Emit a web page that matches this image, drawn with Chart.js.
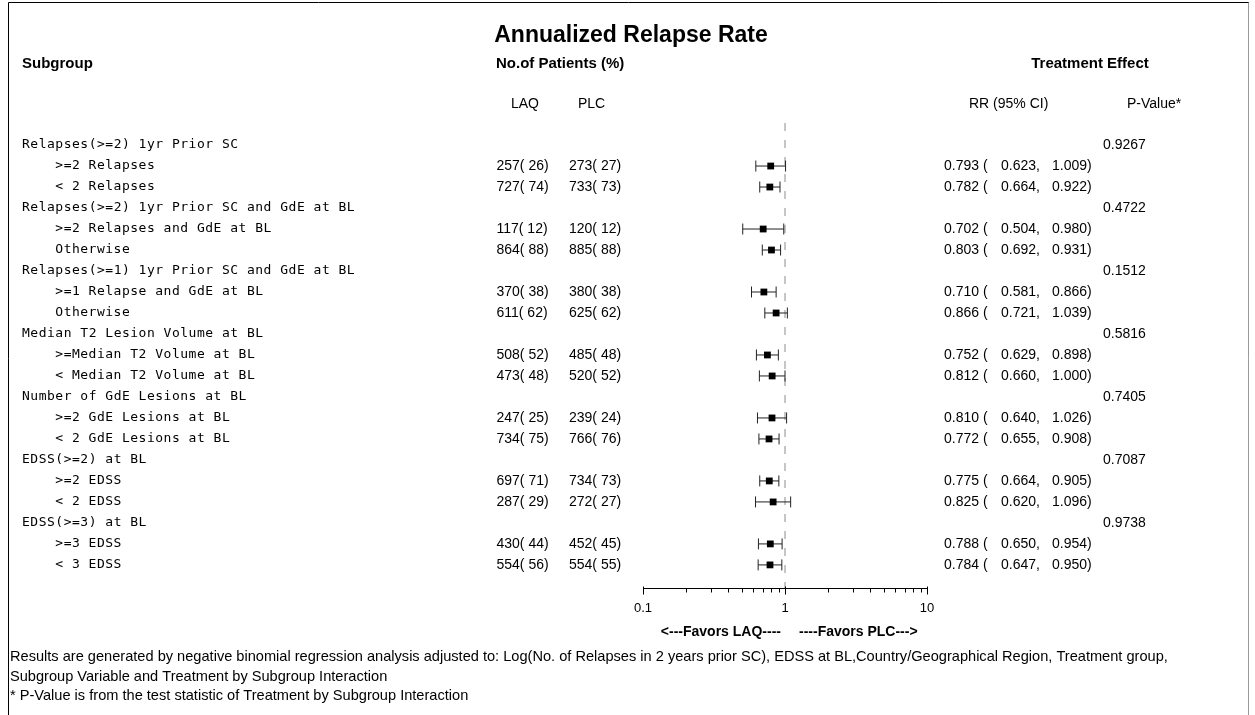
<!DOCTYPE html>
<html>
<head>
<meta charset="utf-8">
<title>Annualized Relapse Rate</title>
<script src="https://cdn.jsdelivr.net/npm/chart.js@4.4.1/dist/chart.umd.min.js"></script>
<style>
    html, body { margin: 0; padding: 0; background: #fff; }
    canvas { display: block; }
</style>
</head>
<body>
<canvas id="forestChart" width="1255" height="715"></canvas>
<script>
// Subgroup variables and their levels
const groupLabels = [
    'Relapses(>=2) 1yr Prior SC',
    'Relapses(>=2) 1yr Prior SC and GdE at BL',
    'Relapses(>=1) 1yr Prior SC and GdE at BL',
    'Median T2 Lesion Volume at BL',
    'Number of GdE Lesions at BL',
    'EDSS(>=2) at BL',
    'EDSS(>=3) at BL'
];
const subgroupLabels = [
    '>=2 Relapses', '< 2 Relapses',
    '>=2 Relapses and GdE at BL', 'Otherwise',
    '>=1 Relapse and GdE at BL', 'Otherwise',
    '>=Median T2 Volume at BL', '< Median T2 Volume at BL',
    '>=2 GdE Lesions at BL', '< 2 GdE Lesions at BL',
    '>=2 EDSS', '< 2 EDSS',
    '>=3 EDSS', '< 3 EDSS'
];

// Patients per arm, n and %
const laqN   = [257, 727, 117, 864, 370, 611, 508, 473, 247, 734, 697, 287, 430, 554];
const laqPct = [26, 74, 12, 88, 38, 62, 52, 48, 25, 75, 71, 29, 44, 56];
const plcN   = [273, 733, 120, 885, 380, 625, 485, 520, 239, 766, 734, 272, 452, 554];
const plcPct = [27, 73, 12, 88, 38, 62, 48, 52, 24, 76, 73, 27, 45, 55];

// Rate ratio with 95% CI
const rrEst  = [0.793, 0.782, 0.702, 0.803, 0.710, 0.866, 0.752, 0.812, 0.810, 0.772, 0.775, 0.825, 0.788, 0.784];
const rrLow  = [0.623, 0.664, 0.504, 0.692, 0.581, 0.721, 0.629, 0.660, 0.640, 0.655, 0.664, 0.620, 0.650, 0.647];
const rrHigh = [1.009, 0.922, 0.980, 0.931, 0.866, 1.039, 0.898, 1.000, 1.026, 0.908, 0.905, 1.096, 0.954, 0.950];

// Interaction p-values, one per subgroup variable
const pValues = [0.9267, 0.4722, 0.1512, 0.5816, 0.7405, 0.7087, 0.9738];

const majorTicks = [0.1, 1, 10];
const minorTicks = [0.2, 0.3, 0.4, 0.5, 0.6, 0.7, 0.8, 0.9, 2, 3, 4, 5, 6, 7, 8, 9];

const footnotes = [
    'Results are generated by negative binomial regression analysis adjusted to: Log(No. of Relapses in 2 years prior SC), EDSS at BL,Country/Geographical Region, Treatment group,',
    'Subgroup Variable and Treatment by Subgroup Interaction',
    '* P-Value is from the test statistic of Treatment by Subgroup Interaction'
];

const SANS = '"Liberation Sans", Arial, sans-serif';
const MONO = '"DejaVu Sans Mono", monospace';

// y value of each table line: group heading then its two levels
function groupRow(g) { return g * 3; }
function subRow(i) { return Math.floor(i / 2) * 3 + 1 + (i % 2); }

function pct(n, p) {
    return n + '(' + String(p).padStart(3) + ')';
}

// fixed pitch text, like the listing output
function drawMono(ctx, text, x, y) {
    const pitch = 8.33;
    for (let k = 0; k < text.length; k++) {
        ctx.fillText(text[k], x + k * pitch, y);
    }
}

function text(ctx, str, x, y, font, align, baseline) {
    ctx.font = font;
    ctx.textAlign = align || 'left';
    ctx.textBaseline = baseline || 'middle';
    ctx.fillText(str, x, y);
}

const tablePlugin = {
    id: 'forestTable',
    beforeDraw(chart) {
        const ctx = chart.ctx;
        ctx.save();
        ctx.lineWidth = 1;
        ctx.strokeStyle = '#000';
        ctx.beginPath();
        ctx.moveTo(8.5, 715);
        ctx.lineTo(8.5, 2.5);
        ctx.lineTo(1249, 2.5);
        ctx.stroke();
        ctx.strokeStyle = '#9a9a9a';
        ctx.beginPath();
        ctx.moveTo(1248.5, 2.5);
        ctx.lineTo(1248.5, 715);
        ctx.stroke();
        ctx.restore();
    },
    afterDatasetsDraw(chart) {
        // log axis along the bottom of the plot area
        const ctx = chart.ctx;
        const xs = chart.scales.x;
        const yb = Math.round(chart.chartArea.bottom) + 0.5;
        ctx.save();
        ctx.strokeStyle = '#000';
        ctx.lineWidth = 1;
        ctx.beginPath();
        ctx.moveTo(xs.getPixelForValue(0.1), yb);
        ctx.lineTo(xs.getPixelForValue(10), yb);
        majorTicks.forEach(t => {
            const px = Math.round(xs.getPixelForValue(t)) + 0.5;
            ctx.moveTo(px, yb - 2);
            ctx.lineTo(px, yb + 6);
        });
        minorTicks.forEach(t => {
            const px = Math.round(xs.getPixelForValue(t)) + 0.5;
            ctx.moveTo(px, yb);
            ctx.lineTo(px, yb + 4);
        });
        ctx.stroke();
        ctx.fillStyle = '#000';
        majorTicks.forEach(t => {
            text(ctx, String(t), xs.getPixelForValue(t), 608, '13px ' + SANS, 'center');
        });
        const one = xs.getPixelForValue(1);
        text(ctx, '<---Favors LAQ----', one - 4, 632, 'bold 14px ' + SANS, 'right');
        text(ctx, '----Favors PLC--->', one + 14, 632, 'bold 14px ' + SANS, 'left');
        ctx.restore();
    },
    afterDraw(chart) {
        const ctx = chart.ctx;
        const ys = chart.scales.y;
        ctx.save();
        ctx.fillStyle = '#000';

        // headings
        text(ctx, 'Annualized Relapse Rate', 631, 42, 'bold 23px ' + SANS, 'center', 'alphabetic');
        text(ctx, 'Subgroup', 22, 68, 'bold 15px ' + SANS, 'left', 'alphabetic');
        text(ctx, 'No.of Patients (%)', 496, 68, 'bold 15px ' + SANS, 'left', 'alphabetic');
        text(ctx, 'Treatment Effect', 1090, 68, 'bold 15px ' + SANS, 'center', 'alphabetic');
        text(ctx, 'LAQ', 511, 108, '14px ' + SANS, 'left', 'alphabetic');
        text(ctx, 'PLC', 578, 108, '14px ' + SANS, 'left', 'alphabetic');
        text(ctx, 'RR (95% CI)', 969, 108, '14px ' + SANS, 'left', 'alphabetic');
        text(ctx, 'P-Value*', 1127, 108, '14px ' + SANS, 'left', 'alphabetic');

        // subgroup variable lines with interaction p-value
        groupLabels.forEach((label, g) => {
            const y = ys.getPixelForValue(groupRow(g));
            ctx.font = '13px ' + MONO;
            ctx.textAlign = 'left';
            ctx.textBaseline = 'middle';
            drawMono(ctx, label, 22, y);
            text(ctx, pValues[g].toFixed(4), 1103, y, '14px ' + SANS);
        });

        // level lines: counts and rate ratio
        subgroupLabels.forEach((label, i) => {
            const y = ys.getPixelForValue(subRow(i));
            ctx.font = '13px ' + MONO;
            ctx.textAlign = 'left';
            ctx.textBaseline = 'middle';
            drawMono(ctx, label, 55.3, y);
            const f = '14px ' + SANS;
            text(ctx, pct(laqN[i], laqPct[i]), 496.5, y, f);
            text(ctx, pct(plcN[i], plcPct[i]), 569, y, f);
            text(ctx, rrEst[i].toFixed(3) + ' (', 944, y, f);
            text(ctx, rrLow[i].toFixed(3) + ',', 1001, y, f);
            text(ctx, rrHigh[i].toFixed(3) + ')', 1052, y, f);
        });

        footnotes.forEach((line, k) => {
            text(ctx, line, 10, [657, 677, 696][k], '14.6px ' + SANS);
        });
        ctx.restore();
    }
};

// confidence interval segments with end caps
const ciDatasets = rrEst.map((v, i) => ({
    type: 'line',
    data: [{ x: rrLow[i], y: subRow(i) }, { x: rrHigh[i], y: subRow(i) }],
    borderColor: '#222',
    borderWidth: 1,
    pointStyle: 'line',
    rotation: 90,
    pointRadius: 5.5,
    pointBorderColor: '#222',
    pointBorderWidth: 1,
    order: 1
}));

const ctx = document.getElementById('forestChart').getContext('2d');
const forestChart = new Chart(ctx, {
    type: 'scatter',
    data: {
        datasets: [
            {
                label: 'RR',
                data: rrEst.map((v, i) => ({ x: v, y: subRow(i) })),
                pointStyle: 'rect',
                pointRadius: 4.8,
                backgroundColor: '#000',
                borderColor: '#000',
                borderWidth: 0,
                order: 0
            },
            ...ciDatasets,
            {
                type: 'line',
                label: 'No effect',
                data: [{ x: 1, y: -1.05 }, { x: 1, y: 21.1 }],
                borderColor: '#8c8c8c',
                borderWidth: 1,
                borderDash: [8, 9],
                pointRadius: 0,
                order: 2
            }
        ]
    },
    options: {
        responsive: false,
        animation: false,
        events: [],
        layout: {
            padding: { left: 643, right: 328, top: 123, bottom: 127 }
        },
        scales: {
            x: { type: 'logarithmic', min: 0.1, max: 10, display: false },
            y: { type: 'linear', min: -1.05, max: 21.1, reverse: true, display: false }
        },
        plugins: {
            legend: { display: false },
            tooltip: { enabled: false }
        }
    },
    plugins: [tablePlugin]
});
</script>
</body>
</html>
